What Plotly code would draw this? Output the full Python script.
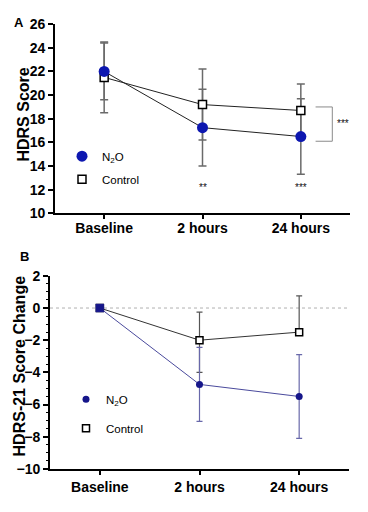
import plotly.graph_objects as go

# ---- data ----
timepoints = ["Baseline", "2 hours", "24 hours"]

# Panel A: HDRS score (mean, SD)
a_n2o_mean = [22.0, 17.25, 16.5]
a_n2o_sd = [2.4, 3.25, 3.2]
a_ctrl_mean = [21.5, 19.2, 18.7]
a_ctrl_sd = [3.0, 3.0, 2.25]

# Panel B: HDRS-21 score change (mean, error)
b_n2o_mean = [0.0, -4.75, -5.5]
b_n2o_err = [0.0, 2.3, 2.6]
b_ctrl_mean = [0.0, -2.0, -1.5]
b_ctrl_err_up = [0.0, 1.75, 2.25]
b_ctrl_err_down = [0.0, 2.0, 0.0]

a_yticks = [10, 12, 14, 16, 18, 20, 22, 24, 26]
b_yticks = [2, 0, -2, -4, -6, -8, -10]

FONT = "Liberation Sans, Arial, sans-serif"
N2O_A = "#0d17b0"
N2O_B = "#16168a"
N2O_B_LINE = "#4a4a9c"
N2O_B_ERR = "#6868aa"
GRAY_ERR = "#6a6a6a"

fig = go.Figure()

def err_trace(x, y, xa, ya, **err):
    return go.Scatter(x=x, y=y, mode="markers", xaxis=xa, yaxis=ya,
                      marker=dict(size=1, opacity=0), showlegend=False, hoverinfo="skip",
                      error_y=dict(type="data", **err))

def line_trace(x, y, xa, ya, color):
    return go.Scatter(x=x, y=y, mode="lines", xaxis=xa, yaxis=ya, showlegend=False,
                      hoverinfo="skip", line=dict(color=color, width=1))

# ---------- Panel A ----------
fig.add_trace(err_trace(timepoints, a_ctrl_mean, "x", "y", array=a_ctrl_sd,
                        color=GRAY_ERR, thickness=1.5, width=4))
fig.add_trace(err_trace(timepoints, a_n2o_mean, "x", "y", array=a_n2o_sd,
                        color=GRAY_ERR, thickness=1.5, width=4))
fig.add_trace(line_trace(timepoints, a_ctrl_mean, "x", "y", "#222222"))
fig.add_trace(line_trace(timepoints, a_n2o_mean, "x", "y", "#222222"))
fig.add_trace(go.Scatter(
    x=timepoints, y=a_ctrl_mean, mode="markers", xaxis="x", yaxis="y",
    name="Control", legend="legend", legendgroup="ac", legendrank=2,
    marker=dict(symbol="square", size=8, color="white", line=dict(color="black", width=1.5))))
fig.add_trace(go.Scatter(
    x=timepoints, y=a_n2o_mean, mode="markers", xaxis="x", yaxis="y",
    name="N<sub>2</sub>O", legend="legend", legendgroup="an", legendrank=1,
    marker=dict(symbol="circle", size=11, color=N2O_A, line=dict(width=0))))

# ---------- Panel B ----------
fig.add_trace(err_trace(timepoints, b_ctrl_mean, "x2", "y2", symmetric=False,
                        array=b_ctrl_err_up, arrayminus=b_ctrl_err_down,
                        color="#555555", thickness=1.2, width=3))
fig.add_trace(err_trace(timepoints, b_n2o_mean, "x2", "y2", array=b_n2o_err,
                        color=N2O_B_ERR, thickness=1.2, width=3))
fig.add_trace(line_trace(timepoints, b_ctrl_mean, "x2", "y2", "#333333"))
fig.add_trace(line_trace(timepoints, b_n2o_mean, "x2", "y2", N2O_B_LINE))
fig.add_trace(go.Scatter(
    x=timepoints, y=b_ctrl_mean, mode="markers", xaxis="x2", yaxis="y2",
    name="Control", legend="legend2", legendgroup="bc", legendrank=2,
    marker=dict(symbol="square", size=7, color="white", line=dict(color="black", width=1.5))))
fig.add_trace(go.Scatter(
    x=timepoints, y=b_n2o_mean, mode="markers", xaxis="x2", yaxis="y2",
    name="N<sub>2</sub>O", legend="legend2", legendgroup="bn", legendrank=1,
    marker=dict(symbol="circle", size=7, color=N2O_B, line=dict(width=0))))
# overlapping baseline point (both groups at 0) drawn as a filled square
fig.add_trace(go.Scatter(
    x=timepoints[:1], y=b_n2o_mean[:1], mode="markers", xaxis="x2", yaxis="y2",
    showlegend=False, hoverinfo="skip",
    marker=dict(symbol="square", size=8, color=N2O_B, line=dict(color="#2a2a9a", width=0.5))))

W, H = 368, 512
def px(xp):
    return xp / W
def py(yp):
    return 1 - yp / H

axis_common = dict(showline=True, linecolor="black", linewidth=1.8, ticks="outside",
                   tickcolor="black", showgrid=False, zeroline=False,
                   tickfont=dict(family=FONT, size=14, color="black", weight="bold"))

fig.update_layout(
    width=W, height=H, margin=dict(l=0, r=0, t=0, b=0),
    paper_bgcolor="white", plot_bgcolor="white",
    font=dict(family=FONT, color="black"),
    xaxis=dict(domain=[px(55), px(350)], anchor="y", type="category",
               range=[-0.5, 2.5], ticklen=4, tickwidth=1.5, ticklabelstandoff=-3,
               **axis_common),
    yaxis=dict(domain=[py(212), py(16.7)], anchor="x", range=[10, 26],
               tickvals=a_yticks, ticklen=5, tickwidth=1.5, **axis_common),
    xaxis2=dict(domain=[px(50), px(349)], anchor="y2", type="category",
                range=[-0.5, 2.5], ticklen=4, tickwidth=1.5, **axis_common),
    yaxis2=dict(domain=[py(475.7), py(276.5)], anchor="x2", range=[-10, 2],
                tickvals=b_yticks, ticklen=5, tickwidth=1.5,
                minor=dict(dtick=0.5, ticks="outside", ticklen=2.5, tickcolor="black", tickwidth=1),
                **axis_common),
    legend=dict(x=px(62), y=py(138), xanchor="left", yanchor="top",
                bgcolor="rgba(0,0,0,0)", traceorder="grouped", tracegroupgap=4,
                font=dict(family=FONT, size=11.5, color="black"), itemsizing="trace"),
    legend2=dict(x=px(66), y=py(389), xanchor="left", yanchor="top",
                 bgcolor="rgba(0,0,0,0)", traceorder="grouped", tracegroupgap=10,
                 font=dict(family=FONT, size=11.5, color="black"), itemsizing="trace"),
    showlegend=True,
)

# zero reference line in panel B
fig.add_shape(type="line", xref="x2 domain", yref="y2", x0=0, x1=1, y0=0, y1=0,
              line=dict(color="#b0b0b0", width=1, dash="dot"), layer="below")

# significance bracket in panel A
br = dict(color="#8a8a8a", width=1)
fig.add_shape(type="line", xref="x", yref="y", x0=2.15, x1=2.32, y0=19.0, y1=19.0, line=br)
fig.add_shape(type="line", xref="x", yref="y", x0=2.32, x1=2.32, y0=19.0, y1=16.1, line=br)
fig.add_shape(type="line", xref="x", yref="y", x0=2.15, x1=2.32, y0=16.1, y1=16.1, line=br)

annots = [
    dict(text="***", x=2.43, y=17.6, xref="x", yref="y", font=dict(size=10, color="#111111")),
    dict(text="**", x=1, y=12.2, xref="x", yref="y", font=dict(size=10, color="#111111")),
    dict(text="***", x=2, y=12.2, xref="x", yref="y", font=dict(size=10, color="#111111")),
    dict(text="<b>A</b>", x=px(19), y=py(15), xref="paper", yref="paper",
         font=dict(size=13, color="black")),
    dict(text="<b>B</b>", x=px(24), y=py(257), xref="paper", yref="paper",
         font=dict(size=13, color="black")),
    dict(text="<b>HDRS Score</b>", x=px(24), y=py(110), xref="paper", yref="paper",
         textangle=-90, font=dict(size=16, color="black")),
    dict(text="<b>HDRS-21 Score Change</b>", x=px(19), y=py(370), xref="paper", yref="paper",
         textangle=-90, font=dict(size=16, color="black")),
]
for a in annots:
    a["font"]["family"] = FONT
    fig.add_annotation(showarrow=False, xanchor="center", yanchor="middle", **a)

fig.write_html("out.html", config={"displayModeBar": False},
               post_script="document.body.style.margin='0';")
